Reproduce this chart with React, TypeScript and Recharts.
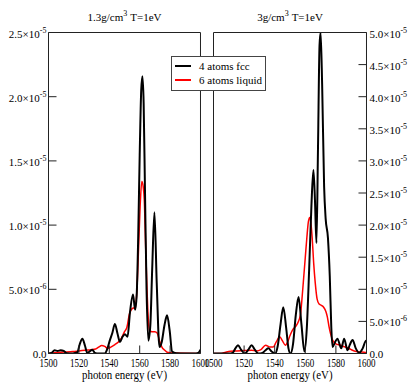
import React from 'react';
import { LineChart, Line, XAxis, YAxis } from 'recharts';

const FONT = '"Liberation Serif", "DejaVu Serif", serif';

// photon energy (eV) and intensity (in units of 1e-6)
// 1.3 g/cm3 panel
const fccLowEnergy = [
  1500, 1502, 1504, 1506, 1508, 1510, 1512, 1516, 1519, 1520.5, 1522.3, 1524, 1525.5, 1527, 1528.8,
  1530.5, 1533, 1537, 1538.5, 1540.3, 1542, 1543.7, 1545.3, 1547, 1548.7, 1550.3, 1552, 1553.6,
  1555.6, 1557, 1558, 1559, 1560, 1561, 1561.8, 1562.6, 1563.5, 1564.5, 1565.7, 1567, 1568.2,
  1569.7, 1571.2, 1573, 1574.5, 1576.3, 1578, 1579.7, 1581.3, 1584, 1590, 1596, 1598.5, 1600,
];
const fccLowValue = [
  0, 0.05, 0.25, 0.2, 0.25, 0.2, 0.02, 0, 0.1, 0.7, 1.15, 0.6, 0.05, 0.15, 0.3,
  0.05, 0, 0, 0.3, 1.0, 1.6, 2.3, 1.6, 0.9, 1.3, 1.5, 1.3, 3.2,
  4.6, 3.4, 4.5, 9, 15.5, 20.5, 21.6, 19.5, 12.5, 5, 1.0, 2.2, 6.5,
  11, 5.5, 0.5, 0.9, 2.2, 2.97, 1.8, 0.15, 0.02, 0, 0, 0.05, 0.3,
];
const liqLowEnergy = [
  1500, 1504, 1508, 1512, 1516, 1520, 1524, 1528, 1531, 1533, 1535, 1537, 1539, 1541, 1543.7,
  1546, 1548, 1550, 1551.5, 1553.3, 1555, 1557, 1558.2, 1559.2, 1560.3, 1561.4, 1562.3, 1563,
  1564, 1564.7, 1565.6, 1566.4, 1568, 1570, 1571.5, 1573, 1574.6, 1576.5, 1578, 1582, 1600,
];
const liqLowValue = [
  0, 0.05, 0.1, 0.12, 0.15, 0.2, 0.25, 0.3, 0.35, 0.5, 0.62, 0.55, 0.4, 0.5, 0.7,
  0.9, 1.2, 1.7, 2.0, 3.1, 3.5, 3.6, 5, 8, 11.5, 13.4, 13, 12,
  8, 5.4, 2.8, 1.8, 1.7, 1.7, 1.6, 1.0, 0.5, 0.25, 0.1, 0.03, 0,
];

// 3 g/cm3 panel
const fccHighEnergy = [
  1500, 1510, 1512.5, 1514.3, 1516, 1518, 1520.5, 1522.8, 1524.9, 1527, 1529.3, 1532, 1534, 1535.9,
  1538, 1540.3, 1542, 1543.8, 1545.6, 1547.5, 1549, 1550.3, 1552, 1553.8, 1555.6, 1557.5, 1559.4,
  1561, 1562.5, 1564, 1565.3, 1566.3, 1567.3, 1568.3, 1569.3, 1570, 1571, 1572.3, 1573.3, 1574.8,
  1576, 1577, 1577.8, 1579.5, 1581, 1583.5, 1585.4, 1587.6, 1589, 1590.9, 1593, 1595.3, 1597.5,
  1599.7, 1600,
];
const fccHighValue = [
  0, 0, 0.1, 0.8, 1.3, 0.6, 0, 0.6, 1.3, 0.6, 0, 0.1, 0.5, 0.8,
  0.3, 0, 1.2, 4.5, 7.2, 4, 0.8, 0, 1.5, 6, 8.8, 4.5, 0.3,
  4, 13, 23, 28.6, 24, 17.2, 32, 48, 50, 42, 26, 21, 18,
  12, 4, 1.0, 1.8, 2.3, 0.8, 2.3, 0.5, 1.3, 2.1, 0.8, 0.1, 0.8,
  2.0, 2.0,
];
const liqHighEnergy = [
  1500, 1505, 1508, 1511, 1515, 1520, 1525, 1528, 1531, 1534, 1537, 1539, 1541, 1543.3, 1545,
  1547, 1548.5, 1550, 1552, 1554, 1555.5, 1556.8, 1558, 1559, 1560, 1561, 1562, 1562.9, 1563.8,
  1564.5, 1565.5, 1566.5, 1567.7, 1569, 1570.5, 1572, 1573.5, 1574.4, 1575.5, 1576.5, 1578, 1580,
  1583, 1585, 1587.5, 1590, 1592, 1595, 1598.5, 1600,
];
const liqHighValue = [
  0, 0, 0.2, 0.35, 0.4, 0.45, 0.5, 0.4, 0.6, 1.3, 1.0, 1.0, 1.8, 2.6, 2.0,
  1.3, 1.8, 2.8, 3.8, 4.3, 5.0, 6, 9, 12, 15, 18, 20.5, 21.2, 20,
  18, 14, 11, 8.5, 7.7, 7.5, 7.2, 6.5, 5.7, 4.2, 3.1, 2.0, 1.5,
  1.3, 1.1, 0.9, 0.6, 0.4, 0.25, 0.2, 0.15,
];

const series = [
  { name: '4 atoms fcc', color: '#000000', width: 2 },
  { name: '6 atoms liquid', color: '#ff0000', width: 1.5 },
];

const xMajor = [1500, 1520, 1540, 1560, 1580, 1600];
const xMinor = [1510, 1530, 1550, 1570, 1590];
const yMajorLow = [0, 5e-6, 1e-5, 1.5e-5, 2e-5, 2.5e-5];
const yMinorLow = [2.5e-6, 7.5e-6, 1.25e-5, 1.75e-5, 2.25e-5];
const yMajorHigh = [0, 5e-6, 1e-5, 1.5e-5, 2e-5, 2.5e-5, 3e-5, 3.5e-5, 4e-5, 4.5e-5, 5e-5];
const yMinorHigh = [2.5e-6, 7.5e-6, 1.25e-5, 1.75e-5, 2.25e-5, 2.75e-5, 3.25e-5, 3.75e-5, 4.25e-5, 4.75e-5];

const toPoints = (e: number[], v: number[]) => e.map((x, i) => ({ e: x, v: v[i] * 1e-6 }));

const sci = (v: number) => {
  if (v === 0) return { m: '0.0', p: '' };
  const p = Math.floor(Math.log10(v) + 1e-9);
  return { m: (v / Math.pow(10, p)).toFixed(1), p: String(p) };
};

const YTick = ({ x, y, payload, textAnchor }: any) => {
  const { m, p } = sci(payload.value);
  return (
    <text x={x} y={y + 5} textAnchor={textAnchor} fontFamily={FONT} fontSize={11} fill="#000">
      {m}
      {p && (
        <>
          ×10
          <tspan dy={-5} fontSize={8}>{p}</tspan>
        </>
      )}
    </text>
  );
};

const XTick = ({ x, y, payload }: any) => (
  <text x={x} y={y + 14} textAnchor="middle" fontFamily={FONT} fontSize={12} fill="#000"
    textLength={18} lengthAdjust="spacingAndGlyphs">
    {payload.value}
  </text>
);

const AxisTitle = ({ viewBox }: any) => (
  <text x={viewBox.x + viewBox.width / 2} y={viewBox.y + 25.5} textAnchor="middle" fontFamily={FONT}
    fontSize={12} fill="#000" textLength={85} lengthAdjust="spacingAndGlyphs">
    photon energy (eV)
  </text>
);

const PanelTitle = ({ viewBox, density }: any) => (
  <text x={viewBox.x + viewBox.width / 2} y={viewBox.y - 12} textAnchor="middle" fontFamily={FONT}
    fontSize={11} fill="#000">
    {density}g/cm
    <tspan dy={-5} fontSize={8}>3</tspan>
    <tspan dy={5} dx={3}>T=1eV</tspan>
  </text>
);

const frame = { stroke: '#222', strokeWidth: 1 };
// axes need a non-zero thickness to be drawn; keep it tiny so they all sit on the frame
const THIN = 0.001;

function Panel({ left, right, yMax, yMajor, yMinor, labelSide, density, fcc, liquid }: any) {
  const lines = [fcc, liquid];
  return (
    <div style={{ position: 'absolute', left: 0, top: 0 }}>
      <LineChart width={409} height={382} margin={{ top: 32.5, bottom: 28.5, left, right }}>
        <XAxis xAxisId="b" dataKey="e" type="number" domain={[1500, 1600]} allowDataOverflow
          ticks={xMajor} interval={0} height={THIN} tickSize={-8} tickMargin={8}
          axisLine={frame} tickLine={frame} tick={<XTick />} label={<AxisTitle />} />
        <XAxis xAxisId="bm" dataKey="e" type="number" domain={[1500, 1600]} allowDataOverflow
          ticks={xMinor} interval={0} height={THIN} tickSize={-4} axisLine={false} tickLine={frame} tick={false} />
        <XAxis xAxisId="t" orientation="top" dataKey="e" type="number" domain={[1500, 1600]} allowDataOverflow
          ticks={xMajor} interval={0} height={THIN} tickSize={-8} axisLine={frame} tickLine={frame} tick={false}
          label={<PanelTitle density={density} />} />
        <XAxis xAxisId="tm" orientation="top" dataKey="e" type="number" domain={[1500, 1600]} allowDataOverflow
          ticks={xMinor} interval={0} height={THIN} tickSize={-4} axisLine={false} tickLine={frame} tick={false} />
        <YAxis yAxisId="l" type="number" domain={[0, yMax]} allowDataOverflow ticks={yMajor} interval={0}
          width={THIN} tickSize={-8} tickMargin={10} axisLine={frame} tickLine={frame}
          tick={labelSide === 'left' ? <YTick /> : false} />
        <YAxis yAxisId="lm" type="number" domain={[0, yMax]} allowDataOverflow ticks={yMinor} interval={0}
          width={THIN} tickSize={-4} axisLine={false} tickLine={frame} tick={false} />
        <YAxis yAxisId="r" orientation="right" type="number" domain={[0, yMax]} allowDataOverflow ticks={yMajor}
          interval={0} width={THIN} tickSize={-8} tickMargin={11} axisLine={frame} tickLine={frame}
          tick={labelSide === 'right' ? <YTick /> : false} />
        <YAxis yAxisId="rm" orientation="right" type="number" domain={[0, yMax]} allowDataOverflow ticks={yMinor}
          interval={0} width={THIN} tickSize={-4} axisLine={false} tickLine={frame} tick={false} />
        {lines.map((data: any, i: number) => (
          <Line key={series[i].name} name={series[i].name} data={data} dataKey="v" xAxisId="b" yAxisId="l"
            type="monotone" stroke={series[i].color} strokeWidth={series[i].width} dot={false}
            activeDot={false} isAnimationActive={false} />
        )).reverse()}
      </LineChart>
    </div>
  );
}

function LegendBox() {
  return (
    <div style={{
      position: 'absolute', left: 171, top: 56, width: 93, height: 33, background: '#fff',
      border: '1px solid #444', fontFamily: FONT, fontSize: 11, lineHeight: '14px', zIndex: 2,
    }}>
      {series.map((s, i) => (
        <div key={s.name} style={{ position: 'absolute', left: 3, top: 2 + i * 14, height: 14, display: 'flex', alignItems: 'center' }}>
          <div style={{ width: 16, height: 2, background: s.color, marginRight: 8 }} />
          <span>{s.name}</span>
        </div>
      ))}
    </div>
  );
}

export default function App() {
  return (
    <div style={{ position: 'absolute', left: 0, top: 0, width: 409, height: 382, background: '#fff' }}>
      <Panel left={48.5} right={208.5} yMax={2.5e-5} yMajor={yMajorLow} yMinor={yMinorLow} labelSide="left"
        density="1.3" fcc={toPoints(fccLowEnergy, fccLowValue)} liquid={toPoints(liqLowEnergy, liqLowValue)} />
      <Panel left={213.5} right={42.5} yMax={5e-5} yMajor={yMajorHigh} yMinor={yMinorHigh} labelSide="right"
        density="3" fcc={toPoints(fccHighEnergy, fccHighValue)} liquid={toPoints(liqHighEnergy, liqHighValue)} />
      <LegendBox />
    </div>
  );
}
